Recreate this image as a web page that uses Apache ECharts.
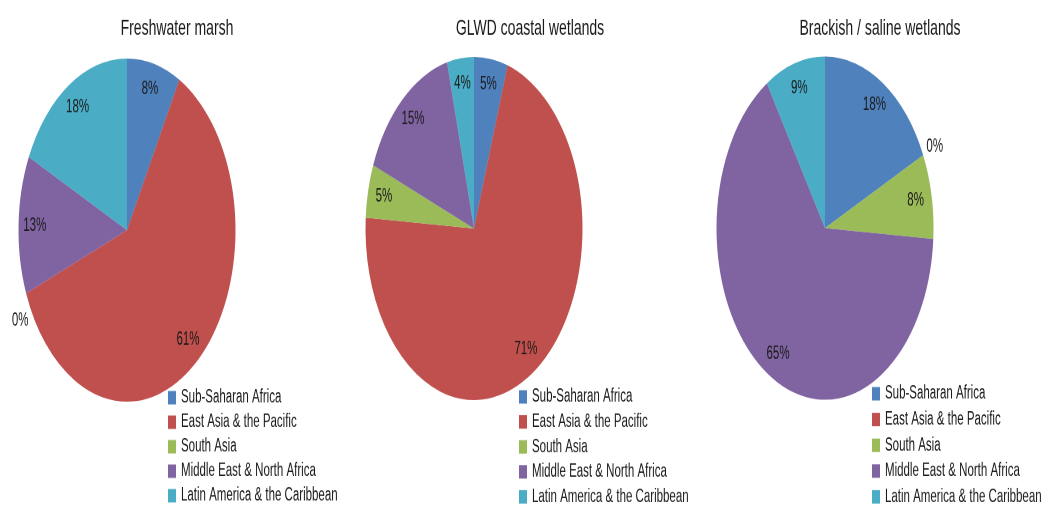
<!DOCTYPE html>
<html>
<head>
<meta charset="utf-8">
<script src="https://cdn.jsdelivr.net/npm/echarts@6/dist/echarts.min.js"></script>
<style>
html,body{margin:0;padding:0;background:#fff;overflow:hidden;}
#wrap{width:1041px;height:506px;overflow:hidden;}
#main{width:1041px;height:360px;transform:scaleY(1.58125);transform-origin:0 0;}
</style>
</head>
<body>
<div id="wrap"><div id="main"></div></div>
<script>
const regions = ['Sub-Saharan Africa', 'East Asia & the Pacific', 'South Asia', 'Middle East & North Africa', 'Latin America & the Caribbean'];
const colors = ['#4F81BD', '#C0504D', '#9BBB59', '#8064A2', '#4BACC6'];
const titles = ['Freshwater marsh', 'GLWD coastal wetlands', 'Brackish / saline wetlands'];
const freshwaterMarsh = [8, 61, 0, 13, 18];
const coastalWetlands = [5, 71, 5, 15, 4];
const brackishWetlands = [18, 0, 8, 65, 9];
const datasets = [freshwaterMarsh, coastalWetlands, brackishWetlands];

const centers = [[127, 145.5], [474, 144.5], [825, 144.3]];
const R = 108.5;
const titleX = [172, 525, 875];
const legendPos = [[168, 245.5], [519, 245], [872, 243]];
const legendGap = [3.5, 3.8, 4.3];
const zeroLabelOffset = [[8, 12], [0, 0], [-2, 1]];
const FONT = 'Liberation Sans, Arial, sans-serif';

const series = [];
const legends = [];
const titleArr = [];
const labelStyle = { show: true, position: 'inside', formatter: '{c}%', color: '#1a1a1a', fontSize: 11.5, fontFamily: FONT };
datasets.forEach((vals, k) => {
  const data = regions.map((n, i) => ({ name: n, value: vals[i], itemStyle: { color: colors[i] } }));
  series.push({
    type: 'pie', name: titles[k], center: centers[k], radius: [0, R],
    startAngle: 90, clockwise: true, label: { show: false }, labelLine: { show: false },
    emphasis: { disabled: true }, silent: true, animation: false, data: data
  });
  // label layer for non-zero slices
  series.push({
    type: 'pie', name: titles[k] + ' labels', center: centers[k], radius: [70, R],
    startAngle: 90, clockwise: true, silent: true, animation: false,
    emphasis: { disabled: true }, legendHoverLink: false,
    label: labelStyle, labelLine: { show: false },
    data: regions.map((n, i) => ({
      name: n, value: vals[i], itemStyle: { color: 'rgba(0,0,0,0)' },
      label: { show: vals[i] !== 0 }
    }))
  });
  // label layer for zero slices (just outside the rim)
  series.push({
    type: 'pie', name: titles[k] + ' zero labels', center: centers[k], radius: [R, R + 24],
    startAngle: 90, clockwise: true, silent: true, animation: false,
    emphasis: { disabled: true }, legendHoverLink: false, minShowLabelAngle: 0,
    label: Object.assign({}, labelStyle, { offset: zeroLabelOffset[k] }), labelLine: { show: false },
    data: regions.map((n, i) => ({
      name: n, value: vals[i], itemStyle: { color: 'rgba(0,0,0,0)' },
      label: { show: vals[i] === 0 }
    }))
  });
  titleArr.push({
    text: titles[k], left: titleX[k], top: 6, textAlign: 'center',
    textStyle: { fontSize: 14, fontWeight: 'normal', color: '#1a1a1a', fontFamily: FONT }
  });
  legends.push({
    orient: 'vertical', left: legendPos[k][0], top: legendPos[k][1],
    icon: 'rect', itemWidth: 8, itemHeight: 8.5, itemGap: legendGap[k], padding: 0,
    selectedMode: false, data: regions,
    textStyle: { fontSize: 11.5, color: '#1a1a1a', fontFamily: FONT, lineHeight: 12 }
  });
});

const chart = echarts.init(document.getElementById('main'), null, { devicePixelRatio: 2, renderer: 'canvas' });
chart.setOption({
  backgroundColor: '#fff',
  animation: false,
  color: colors,
  title: titleArr,
  legend: legends,
  series: series
});
</script>
</body>
</html>
